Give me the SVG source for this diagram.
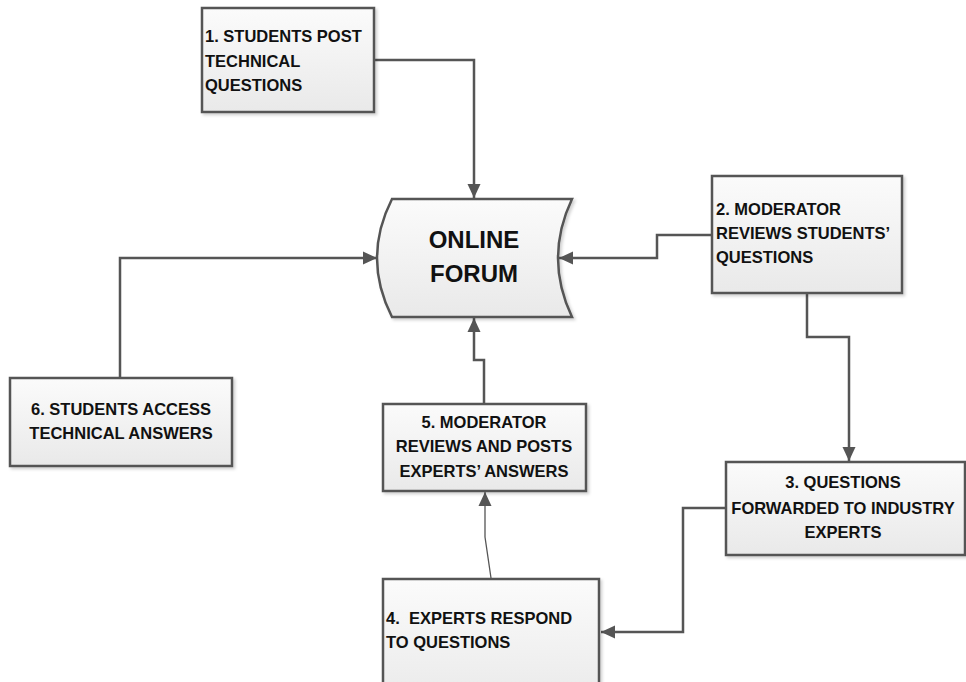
<svg xmlns="http://www.w3.org/2000/svg" width="966" height="682" viewBox="0 0 966 682">
<defs>
<linearGradient id="g" x1="0" y1="0" x2="0" y2="1">
<stop offset="0" stop-color="#fbfbfb"/>
<stop offset="1" stop-color="#e9e9e9"/>
</linearGradient>
<filter id="sh" x="-10%" y="-10%" width="125%" height="130%">
<feDropShadow dx="2" dy="2" stdDeviation="1.5" flood-color="#000" flood-opacity="0.18"/>
</filter>
<marker id="ah" markerUnits="userSpaceOnUse" markerWidth="14" markerHeight="14" refX="14" refY="6.5" orient="auto" viewBox="0 0 14 13">
<path d="M0,0 L14,6.5 L0,13 Z" fill="#555"/>
</marker>
<style>
.box{fill:url(#g);stroke:#555;stroke-width:2.5;filter:url(#sh)}
.t{font-family:"Liberation Sans",Arial,sans-serif;font-weight:bold;font-size:16.5px;fill:#111}
.c{text-anchor:middle}
.big{font-size:24px}
.con{fill:none;stroke:#555;stroke-width:2.5;marker-end:url(#ah)}
.thin{stroke-width:1.3}
</style>
</defs>
<rect width="966" height="682" fill="#fff"/>
<g id="connectors">
<path class="con" d="M374,60 H474 V198"/>
<path class="con" d="M711,235 H657 V258 H559"/>
<path class="con" d="M807,293 V337 H849 V461"/>
<path class="con" d="M726,508 H683 V632 H601"/>
<path class="con thin" d="M491,578 L485,537 V492"/>
<path class="con" d="M484,404 V360 H474 V318"/>
<path class="con" d="M120,378 V258 H377"/>
</g>
<g id="n1">
<rect class="box" x="202" y="8" width="172" height="104"/>
<text class="t" x="205" y="42">1. STUDENTS POST</text>
<text class="t" x="205" y="67">TECHNICAL</text>
<text class="t" x="205" y="91">QUESTIONS</text>
</g>
<g id="forum">
<path class="box" d="M392,199 H572 Q544,258 572,317 H392 Q362,258 392,199 Z"/>
<text class="t c big" x="474" y="248">ONLINE</text>
<text class="t c big" x="474" y="282">FORUM</text>
</g>
<g id="n2">
<rect class="box" x="712" y="176" width="190" height="117"/>
<text class="t" x="716" y="215">2. MODERATOR</text>
<text class="t" x="716" y="239">REVIEWS STUDENTS’</text>
<text class="t" x="716" y="263">QUESTIONS</text>
</g>
<g id="n3">
<rect class="box" x="726" y="462" width="239" height="93"/>
<text class="t c" x="843" y="488">3. QUESTIONS</text>
<text class="t c" x="843" y="514">FORWARDED TO INDUSTRY</text>
<text class="t c" x="843" y="538">EXPERTS</text>
</g>
<g id="n4">
<rect class="box" x="383" y="579" width="216" height="130"/>
<text class="t" x="386" y="624" xml:space="preserve">4.  EXPERTS RESPOND</text>
<text class="t" x="386" y="648">TO QUESTIONS</text>
</g>
<g id="n5">
<rect class="box" x="383" y="404" width="203" height="87"/>
<text class="t c" x="484" y="428">5. MODERATOR</text>
<text class="t c" x="484" y="452">REVIEWS AND POSTS</text>
<text class="t c" x="484" y="477">EXPERTS’ ANSWERS</text>
</g>
<g id="n6">
<rect class="box" x="10" y="378" width="222" height="88"/>
<text class="t c" x="121" y="415">6. STUDENTS ACCESS</text>
<text class="t c" x="121" y="439">TECHNICAL ANSWERS</text>
</g>
</svg>
